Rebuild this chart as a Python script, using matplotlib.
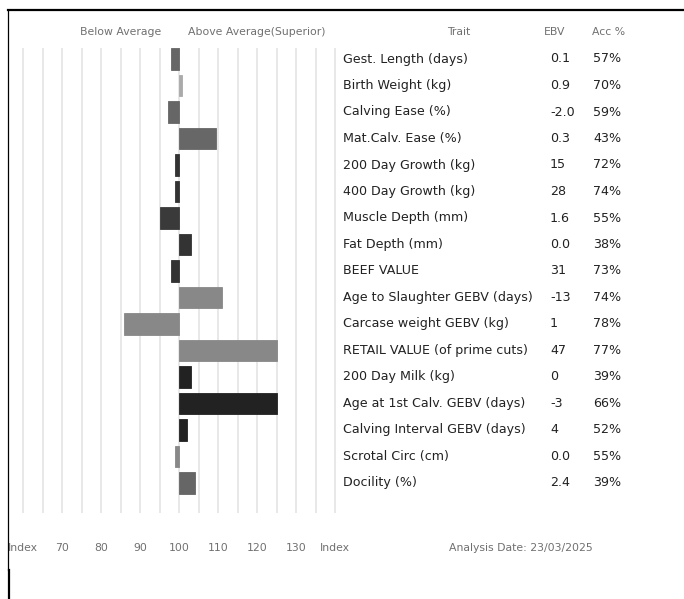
import numpy as np
import matplotlib.pyplot as plt
from matplotlib.lines import Line2D

# trait table
traits = ["Gest. Length (days)", "Birth Weight (kg)", "Calving Ease (%)", "Mat.Calv. Ease (%)",
          "200 Day Growth (kg)", "400 Day Growth (kg)", "Muscle Depth (mm)", "Fat Depth (mm)",
          "BEEF VALUE", "Age to Slaughter GEBV (days)", "Carcase weight GEBV (kg)",
          "RETAIL VALUE (of prime cuts)", "200 Day Milk (kg)", "Age at 1st Calv. GEBV (days)",
          "Calving Interval GEBV (days)", "Scrotal Circ (cm)", "Docility (%)"]
ebv = ["0.1", "0.9", "-2.0", "0.3", "15", "28", "1.6", "0.0", "31", "-13", "1",
       "47", "0", "-3", "4", "0.0", "2.4"]
acc = ["57%", "70%", "59%", "43%", "72%", "74%", "55%", "38%", "73%", "74%", "78%",
       "77%", "39%", "66%", "52%", "55%", "39%"]
# index values (100 = average)
index_vals = [98, 100.8, 97, 109.3, 98.8, 99, 95, 103, 98, 111, 85.7, 125, 103, 125, 102, 99, 104]
bar_colors = ["#666666", "#aaaaaa", "#666666", "#676767", "#333333", "#333333", "#3a3a3a",
              "#333333", "#333333", "#888888", "#888888", "#888888", "#222222", "#222222",
              "#222222", "#888888", "#666666"]

tick_vals = [60, 70, 80, 90, 100, 110, 120, 130, 140]
tick_labels = ["Index", "70", "80", "90", "100", "110", "120", "130", "Index"]
grid_vals = np.arange(60, 145, 5)

W, H = 684, 599
fig = plt.figure(figsize=(W / 100, H / 100), dpi=100)

# axes covers x 8..684 px, y 10..570 px
ax = fig.add_axes([8 / W, 1 - 570 / H, (W - 8) / W, 560 / H])
px_per_unit = 3.9
x0 = 100 - (179.3 - 8) / px_per_unit
x1 = 100 + (684 - 179.3) / px_per_unit
ax.set_xlim(x0, x1)
row_h = 26.5
ax.set_ylim((570 - 59) / row_h, (10 - 59) / row_h)
ax.axis("off")

ax.vlines(grid_vals, -0.43, 17.13, color="#e6e6e6", lw=1.3, zorder=0)

y = np.arange(len(traits))
left = [min(v, 100) for v in index_vals]
width = [abs(v - 100) for v in index_vals]
ax.barh(y, width, left=left, height=0.83, color=bar_colors,
        edgecolor=bar_colors, linewidth=0.6, zorder=2)


def px(x):
    # pixel column -> index units
    return 100 + (x - 179.3) / px_per_unit


grey = "#707070"
small = 7.8
ax.text(px(121), -1.02, "Below Average", ha="center", va="center",
        fontsize=small, color=grey)
ax.text(px(257), -1.02, "Above Average(Superior)", ha="center",
        va="center", fontsize=small, color=grey)
for v, lab in zip(tick_vals, tick_labels):
    ax.text(v, 18.45, lab, ha="center", va="center", fontsize=small, color=grey)

ax.text(px(459), -1.02, "Trait", ha="center", va="center", fontsize=small, color=grey)
ax.text(px(555), -1.02, "EBV", ha="center", va="center", fontsize=small, color=grey)
ax.text(px(609), -1.02, "Acc %", ha="center", va="center", fontsize=small, color=grey)
for i in range(len(traits)):
    ax.text(px(343), i, traits[i], ha="left", va="center", fontsize=9.1, color="#222222")
    ax.text(px(550), i, ebv[i], ha="left", va="center", fontsize=9.1, color="#222222")
    ax.text(px(593), i, acc[i], ha="left", va="center", fontsize=9.1, color="#222222")
ax.text(px(521), 18.45, "Analysis Date: 23/03/2025", ha="center", va="center",
        fontsize=small, color=grey)


# border lines
def fx(p):
    return p / W


def fy(p):
    return 1 - p / H


fig.add_artist(Line2D([fx(8), fx(683)], [fy(10), fy(10)], color="black", lw=1.6))
fig.add_artist(Line2D([fx(8), fx(8)], [fy(10), fy(570)], color="black", lw=0.9))
fig.add_artist(Line2D([fx(8.5), fx(8.5)], [fy(570), fy(599)], color="black", lw=1.6))

fig.savefig("out.png", dpi=100, facecolor="white")
